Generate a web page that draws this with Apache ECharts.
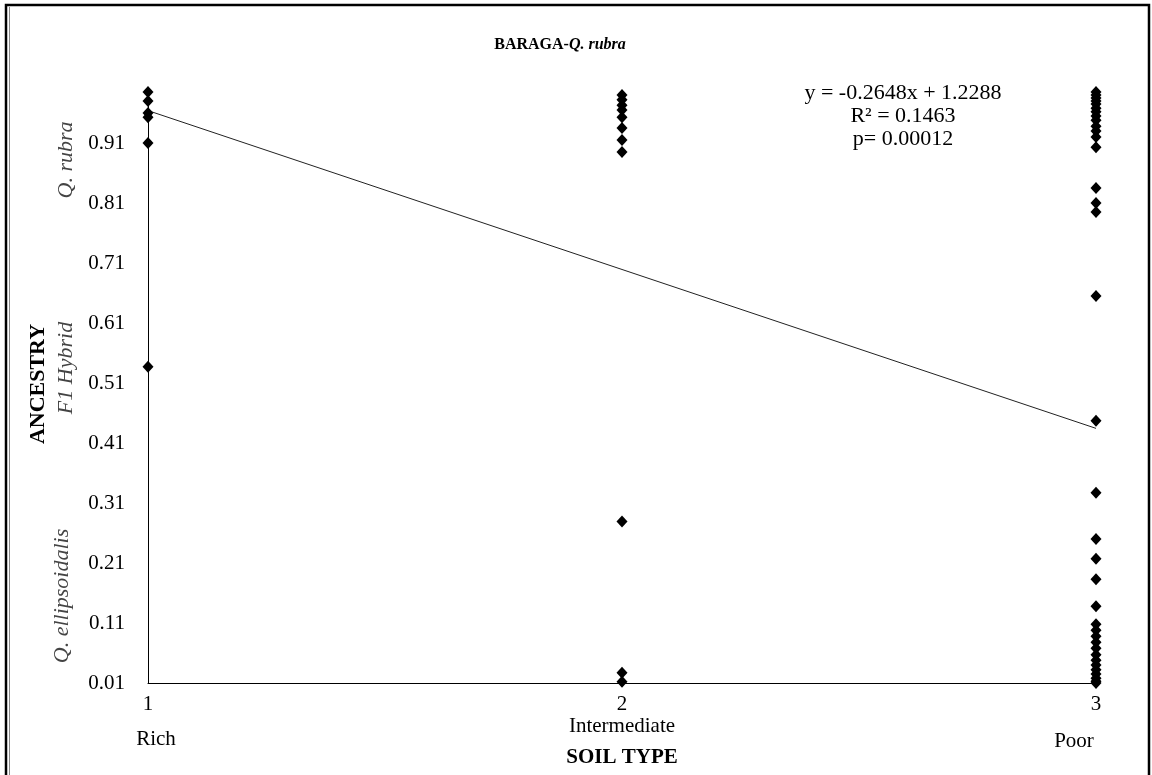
<!DOCTYPE html>
<html><head><meta charset="utf-8">
<script src="https://cdn.jsdelivr.net/npm/echarts@6/dist/echarts.min.js"></script>
<style>html,body{margin:0;padding:0;background:#fff}#c{width:1152px;height:775px}</style>
</head><body><div id="c"></div>
<script>
const xTicks = [1, 2, 3];
const xNames = ['Rich', 'Intermediate', 'Poor'];
const yTicks = [0.01, 0.11, 0.21, 0.31, 0.41, 0.51, 0.61, 0.71, 0.81, 0.91];
const richY = [0.995, 0.98, 0.96, 0.953, 0.91, 0.537];
const interY = [0.99, 0.982, 0.973, 0.965, 0.953, 0.935, 0.915, 0.895, 0.279, 0.027, 0.012];
const poorY = [0.995, 0.99, 0.985, 0.98, 0.975, 0.968, 0.962, 0.955, 0.948, 0.938, 0.93, 0.92, 0.903,
  0.835, 0.81, 0.795, 0.655, 0.447, 0.327, 0.25, 0.217, 0.183, 0.138,
  0.108, 0.098, 0.088, 0.078, 0.068, 0.057, 0.048, 0.04, 0.032, 0.025, 0.018, 0.013, 0.01];
const slope = -0.2648, intercept = 1.2288;
const eqLines = ['y = -0.2648x + 1.2288', 'R² = 0.1463', 'p= 0.00012'];

const pts = [];
richY.forEach(v => pts.push([1, v]));
interY.forEach(v => pts.push([2, v]));
poorY.forEach(v => pts.push([3, v]));
const trend = [[1, slope * 1 + intercept], [3, slope * 3 + intercept]];

const F = 'Liberation Serif, Times New Roman, serif';
const FS = 21;
const chart = echarts.init(document.getElementById('c'));
chart.setOption({
  animation: false,
  backgroundColor: '#fff',
  grid: { left: 148, right: 56, top: 89, bottom: 92 },
  xAxis: {
    type: 'value', min: 1, max: 3, interval: 1,
    axisLine: { lineStyle: { color: '#000', width: 1 } },
    axisTick: { show: false }, splitLine: { show: false },
    axisLabel: { color: '#000', fontFamily: F, fontSize: FS, margin: 11 }
  },
  yAxis: {
    type: 'value', min: 0.01, max: 1.0, interval: 0.1,
    axisLine: { show: true, lineStyle: { color: '#000', width: 1 } },
    axisTick: { show: false }, splitLine: { show: false },
    axisLabel: { color: '#000', fontFamily: F, fontSize: FS, margin: 23, showMaxLabel: false,
      formatter: v => { const t = yTicks.find(k => Math.abs(k - v) < 1e-6); return t !== undefined ? t.toFixed(2) : ''; } }
  },
  series: [
    { type: 'line', data: trend, symbol: 'none', lineStyle: { color: '#222', width: 1 }, z: 1 },
    { type: 'scatter', data: pts, symbol: 'diamond', symbolSize: [11, 12], itemStyle: { color: '#000', opacity: 1 }, z: 3 }
  ]
});

function px(x, y) { return chart.convertToPixel({ gridIndex: 0 }, [x, y]); }
const g = [];
g.push({ type: 'rect', shape: { x: 6, y: 5, width: 1143, height: 774 }, style: { fill: 'none', stroke: '#000', lineWidth: 2.5 }, silent: true });
g.push({ type: 'line', shape: { x1: 9.5, y1: 7, x2: 9.5, y2: 775 }, style: { stroke: '#888', lineWidth: 1 }, silent: true });
g.push({ type: 'text', x: 560, y: 45, style: {
  text: '{b|BARAGA-}{bi|Q. rubra}', align: 'center', verticalAlign: 'middle',
  rich: { b: { fontFamily: F, fontSize: 16, fontWeight: 'bold', fill: '#000' },
          bi: { fontFamily: F, fontSize: 16, fontWeight: 'bold', fontStyle: 'italic', fill: '#000' } } } });
eqLines.forEach((t, i) => g.push({ type: 'text', x: 903, y: 93 + i * 23, style: {
  text: t, align: 'center', verticalAlign: 'middle', fontFamily: F, fontSize: 22, fill: '#000' } }));
const nameY = [739, 726, 741];
const nameDx = [8, 0, -22];
xNames.forEach((n, i) => { const p = px(xTicks[i], 0.01); g.push({ type: 'text', x: p[0] + nameDx[i], y: nameY[i], style: {
  text: n, align: 'center', verticalAlign: 'middle', fontFamily: F, fontSize: FS, fill: '#000' } }); });
g.push({ type: 'text', x: 622, y: 758, style: { text: 'SOIL TYPE', align: 'center', verticalAlign: 'middle',
  fontFamily: F, fontSize: 21, fontWeight: 'bold', fill: '#000' } });
g.push({ type: 'text', x: 38, y: 384, rotation: Math.PI / 2, style: { text: 'ANCESTRY', align: 'center', verticalAlign: 'middle',
  fontFamily: F, fontSize: 22, fontWeight: 'bold', fill: '#000' } });
const sideLabels = [['Q. rubra', 160, 66], ['F1 Hybrid', 368, 66], ['Q. ellipsoidalis', 596, 62]];
sideLabels.forEach(s => g.push({ type: 'text', x: s[2], y: s[1], rotation: Math.PI / 2, style: { text: s[0], align: 'center', verticalAlign: 'middle',
  fontFamily: F, fontSize: 22, fontStyle: 'italic', fill: '#444' } }));
chart.setOption({ graphic: g });
</script></body></html>
